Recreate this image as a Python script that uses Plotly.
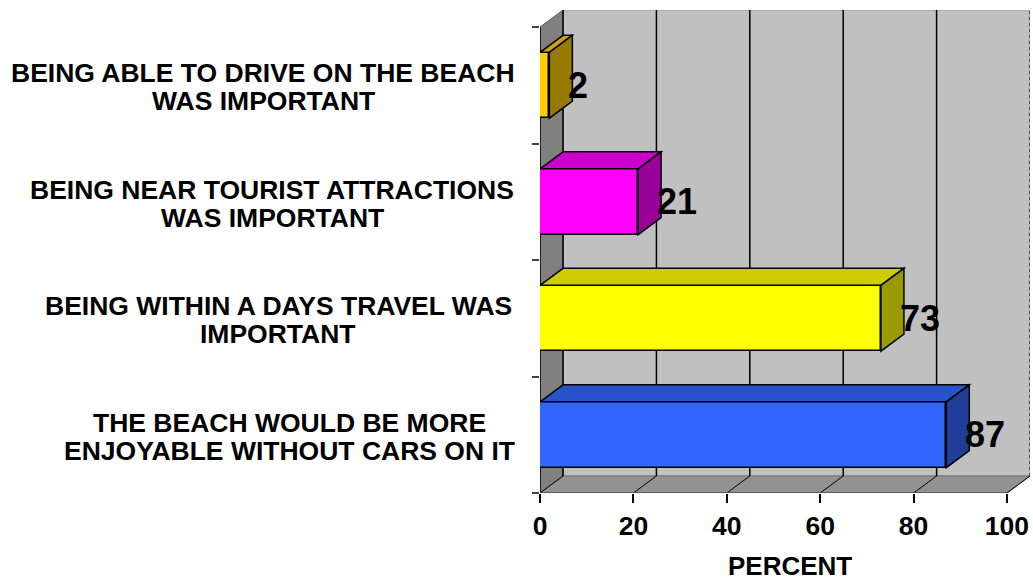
import plotly.graph_objects as go

# ---------------- data ----------------
categories = [
    "THE BEACH WOULD BE MORE<br>ENJOYABLE WITHOUT CARS ON IT",
    "BEING WITHIN A DAYS TRAVEL WAS<br>IMPORTANT",
    "BEING NEAR TOURIST ATTRACTIONS<br>WAS IMPORTANT",
    "BEING ABLE TO DRIVE ON THE BEACH<br>WAS IMPORTANT",
]
values = [87, 73, 21, 2]
x_ticks = [0, 20, 40, 60, 80, 100]
x_title = "PERCENT"

# ---------------- style ----------------
front_colors = ["#3366FF", "#FFFF00", "#FF00FF", "#FFCC00"]
top_colors = ["#2952CC", "#CCCC00", "#CC00CC", "#CCA300"]
side_colors = ["#1F3D99", "#999900", "#990099", "#997A00"]
WALL = "#C0C0C0"
SIDE_WALL = "#808080"
FLOOR = "#929292"
FONT = "Arial, Liberation Sans, sans-serif"

W, H = 1033, 581
ML, MR, MT, MB = 540, 3, 10, 88
XMAX = 100
NCAT = len(categories)
DX = 4.93      # depth offset in x units
DY = 0.146     # depth offset in category units
BAR_W = 0.565

plot_w = W - ML - MR
plot_h = H - MT - MB

shapes = []

def poly(pts, fill, line_color=None, lw=0, layer="below"):
    d = "M " + " L ".join(f"{x},{y}" for x, y in pts) + " Z"
    return dict(type="path", path=d, xref="x", yref="y", fillcolor=fill,
                line=dict(color=line_color or fill, width=lw), layer=layer)

def seg(x0, y0, x1, y1, color="black", w=1.5, dash="solid", layer="below"):
    return dict(type="line", x0=x0, y0=y0, x1=x1, y1=y1, xref="x", yref="y",
                line=dict(color=color, width=w, dash=dash), layer=layer)

# walls
shapes.append(poly([(DX, DY), (XMAX + DX, DY), (XMAX + DX, NCAT + DY), (DX, NCAT + DY)], WALL, "#9a9a9a", 1))
shapes.append(poly([(0, 0), (0, NCAT), (DX, NCAT + DY), (DX, DY)], SIDE_WALL, "#606060", 1))
shapes.append(poly([(0, 0), (XMAX, 0), (XMAX + DX, DY), (DX, DY)], FLOOR, "#707070", 1))

# gridlines on back wall and floor
for t in x_ticks:
    if t < XMAX:
        shapes.append(seg(t + DX, DY, t + DX, NCAT + DY, "black", 1.5))
    shapes.append(seg(t, 0, t + DX, DY, "black", 1))
shapes.append(seg(XMAX + DX, DY, XMAX + DX, NCAT + DY, "#303030", 1.5, "dot"))
# axis edges
shapes.append(seg(0, 0, 0, NCAT, "black", 1.5))
shapes.append(seg(0, 0, XMAX, 0, "#505050", 1.5))

# bar top and side faces
for i, v in enumerate(values):
    yc = i + 0.5
    y0, y1 = yc - BAR_W / 2, yc + BAR_W / 2
    shapes.append(poly([(0, y1), (v, y1), (v + DX, y1 + DY), (DX, y1 + DY)],
                       top_colors[i], "black", 1.5, "above"))
    shapes.append(poly([(v, y0), (v, y1), (v + DX, y1 + DY), (v + DX, y0 + DY)],
                       side_colors[i], "black", 1.5, "above"))

fig = go.Figure()
fig.add_trace(go.Bar(
    x=values, y=[i + 0.5 for i in range(NCAT)], orientation="h", width=BAR_W,
    marker=dict(color=front_colors, line=dict(color="black", width=1.5)),
    hoverinfo="skip", showlegend=False,
))

annotations = []
# value labels
for i, v in enumerate(values):
    annotations.append(dict(
        x=v, y=i + 0.5, xref="x", yref="y", text=str(v), showarrow=False,
        xanchor="left", yanchor="middle", xshift=17,
        font=dict(family=FONT, size=36, color="black", weight="bold"),
    ))

# category labels (two centred lines, block right-aligned)
AW = {' ': 278, 'A': 722, 'B': 722, 'C': 722, 'D': 722, 'E': 667, 'F': 611, 'G': 778,
      'H': 722, 'I': 278, 'J': 556, 'K': 722, 'L': 611, 'M': 833, 'N': 722, 'O': 778,
      'P': 667, 'Q': 778, 'R': 722, 'S': 667, 'T': 611, 'U': 722, 'V': 667, 'W': 944,
      'X': 667, 'Y': 667, 'Z': 611}
LBL_SIZE = 26.5

def tw(s):
    return sum(AW.get(c, 600) for c in s) * LBL_SIZE / 1000

RIGHT_PX = 516
LINE_GAP = 28
for i, cat in enumerate(categories):
    lines = cat.split("<br>")
    bw = max(tw(s) for s in lines)
    cx_px = RIGHT_PX - bw / 2
    cx = (cx_px - ML) / plot_w
    n = len(lines)
    for j, s in enumerate(lines):
        shift = ((n - 1) / 2 - j) * LINE_GAP - 2
        annotations.append(dict(
            x=cx, y=i + 0.5, xref="paper", yref="y", text=s, showarrow=False,
            xanchor="center", yanchor="middle", yshift=shift,
            font=dict(family=FONT, size=LBL_SIZE, color="black", weight="bold"),
        ))

# x axis title
annotations.append(dict(
    x=53.6, y=(MB - (H - 566)) / -plot_h, xref="x", yref="paper", text=x_title,
    showarrow=False, xanchor="center", yanchor="middle",
    font=dict(family=FONT, size=26, color="black", weight="bold"),
))

fig.update_layout(
    width=W, height=H,
    margin=dict(l=ML, r=MR, t=MT, b=MB, pad=0),
    paper_bgcolor="white", plot_bgcolor="white",
    shapes=shapes, annotations=annotations,
    bargap=0, showlegend=False,
    xaxis=dict(range=[0, XMAX + DX], tickvals=x_ticks, ticktext=[str(t) for t in x_ticks],
               ticks="outside", ticklen=9, tickwidth=1.5, tickcolor="black",
               showgrid=False, zeroline=False, showline=False, fixedrange=True,
               tickfont=dict(family=FONT, size=26.5, color="black", weight="bold")),
    yaxis=dict(range=[0, NCAT + DY], tickvals=list(range(NCAT + 1)), ticks="outside",
               ticklen=7, tickwidth=1.5, tickcolor="#404040", showticklabels=False,
               showgrid=False, zeroline=False, showline=False, fixedrange=True),
)

fig.write_html(
    "out.html",
    config={"displayModeBar": False},
    post_script="document.body.style.margin='0';document.body.style.overflow='hidden';",
)
